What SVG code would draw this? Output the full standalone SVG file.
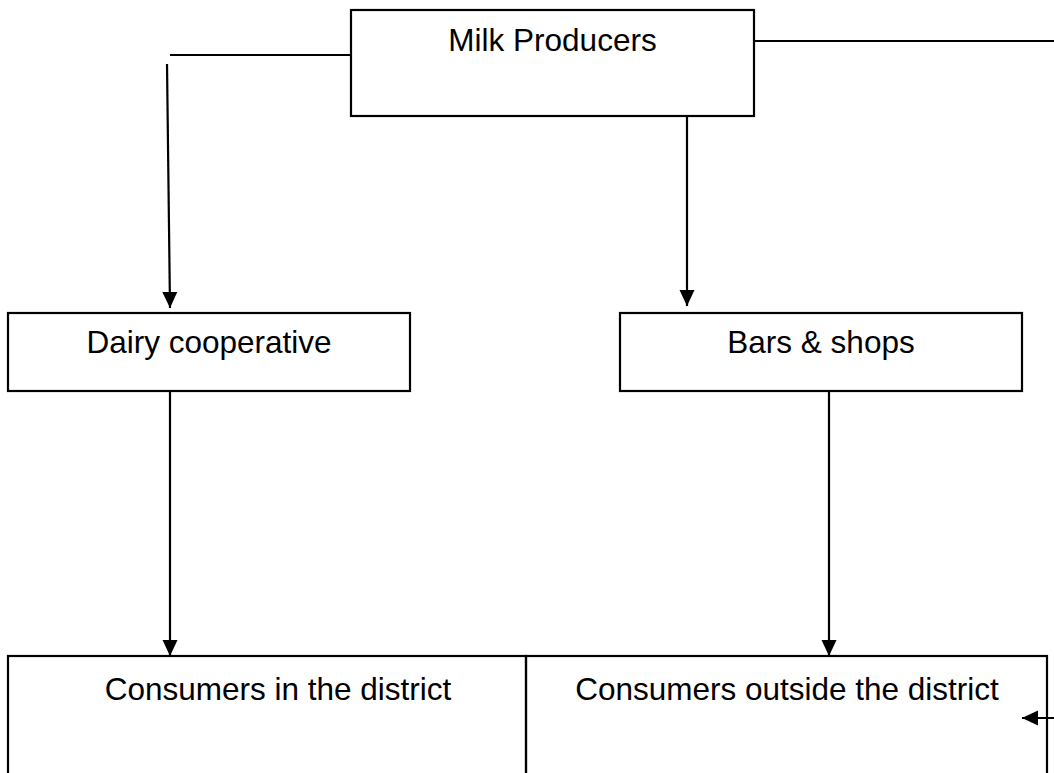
<svg xmlns="http://www.w3.org/2000/svg" width="1054" height="773" viewBox="0 0 1054 773">
<style>
.box{fill:#fff;stroke:#000;stroke-width:2.2}
.lbl{font-family:"Liberation Sans",Arial,sans-serif;font-size:31.5px;fill:#000;text-anchor:middle}
.conn{fill:none;stroke:#000;stroke-width:2.2}
</style>
<defs>
<marker id="arr" markerUnits="userSpaceOnUse" markerWidth="18" markerHeight="18" viewBox="0 0 18 18" refX="16" refY="9" orient="auto">
<path d="M0,1.5 L16,9 L0,16.5 Z" fill="#000"/>
</marker>
</defs>
<rect width="1054" height="773" fill="#fff"/>
<g id="connectors">
<line class="conn" x1="351" y1="55" x2="170" y2="55"/>
<line class="conn" x1="167" y1="64" x2="170" y2="308" marker-end="url(#arr)"/>
<line class="conn" x1="687" y1="116" x2="687" y2="306" marker-end="url(#arr)"/>
<line class="conn" x1="170" y1="391" x2="170" y2="656" marker-end="url(#arr)"/>
<line class="conn" x1="829" y1="391" x2="829" y2="656" marker-end="url(#arr)"/>
<path class="conn" d="M754,41 H1062 V718 H1022" marker-end="url(#arr)"/>
</g>
<g id="milk-producers">
<rect class="box" x="351" y="10" width="403" height="106"/>
<text class="lbl" x="552.5" y="51">Milk Producers</text>
</g>
<g id="dairy-cooperative">
<rect class="box" x="8" y="313" width="402" height="78"/>
<text class="lbl" x="209" y="353">Dairy cooperative</text>
</g>
<g id="bars-shops">
<rect class="box" x="620" y="313" width="402" height="78"/>
<text class="lbl" x="821" y="353">Bars &amp; shops</text>
</g>
<g id="consumers-in">
<rect class="box" x="8" y="656" width="518" height="130" style="fill:none"/>
<text class="lbl" x="278" y="700">Consumers in the district</text>
</g>
<g id="consumers-outside">
<rect class="box" x="526" y="656" width="521" height="130" style="fill:none"/>
<text class="lbl" x="787" y="700">Consumers outside the district</text>
</g>
</svg>
